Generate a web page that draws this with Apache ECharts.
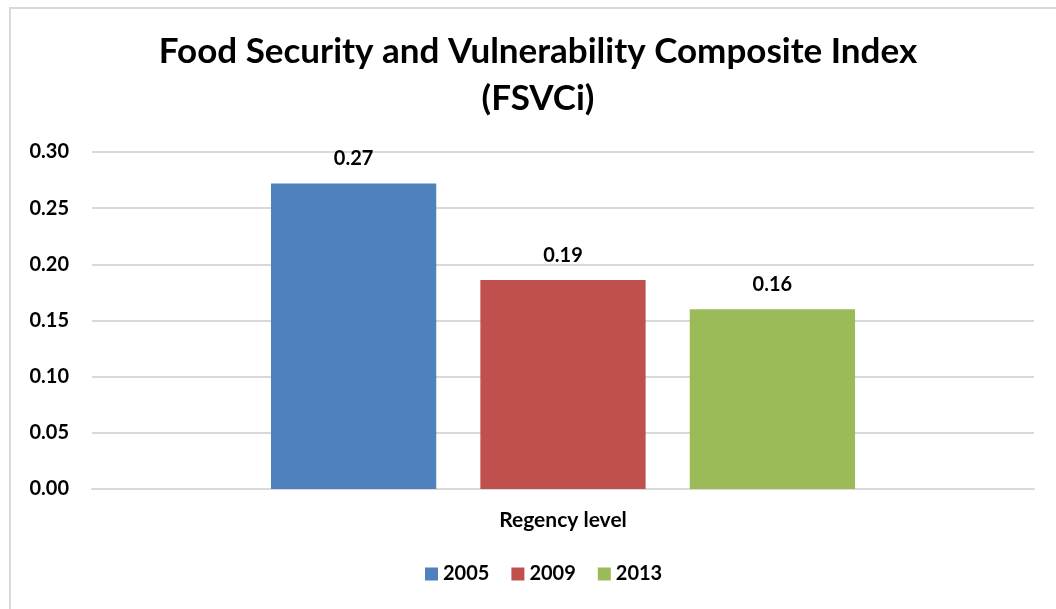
<!DOCTYPE html>
<html>
<head>
<meta charset="utf-8">
<script src="https://cdn.jsdelivr.net/npm/echarts@6/dist/echarts.min.js"></script>
<style>
  html, body { margin: 0; padding: 0; background: #fff; }
  #frame { position: absolute; left: 9px; top: 7px; width: 1060px; height: 620px; border: 2px solid #d9d9d9; box-sizing: border-box; }
  #chart { position: absolute; left: 0; top: 0; width: 1056px; height: 609px; }
</style>
</head>
<body>
<div id="frame"></div>
<div id="chart"></div>
<script>
var categories = ['Regency level'];
var years = ['2005', '2009', '2013'];
var values2005 = [0.272];
var values2009 = [0.186];
var values2013 = [0.160];
var colors = ['#4F81BD', '#C0504D', '#9BBB59'];

var font = 'Lato, "Open Sans", sans-serif';
var myChart = echarts.init(document.getElementById('chart'));

function makeSeries(name, data, color) {
  return {
    name: name,
    type: 'bar',
    data: data,
    barGap: '26.7%',
    barCategoryGap: '38%',
    itemStyle: { color: color },
    label: {
      show: true,
      position: 'top',
      distance: 15,
      color: '#000',
      fontWeight: 'bold',
      fontSize: 20,
      fontFamily: font,
      formatter: function (p) { return p.value.toFixed(2); }
    }
  };
}

var option = {
  animation: false,
  title: {
    text: 'Food Security and Vulnerability Composite Index\n(FSVCi)',
    left: 533,
    top: 23,
    textAlign: 'center',
    textStyle: { fontSize: 35, fontWeight: 'bold', color: '#000', fontFamily: font, lineHeight: 47 }
  },
  legend: {
    bottom: 20,
    left: 420,
    itemWidth: 13,
    itemHeight: 13,
    itemGap: 22,
    icon: 'rect',
    textStyle: { fontSize: 20, fontWeight: 'bold', color: '#000', fontFamily: font }
  },
  grid: { left: 92, right: 22, top: 152, bottom: 120 },
  xAxis: {
    type: 'category',
    data: categories,
    axisTick: { show: false },
    axisLine: { lineStyle: { color: '#d9d9d9', width: 2 } },
    axisLabel: { color: '#000', fontWeight: 'bold', fontSize: 21, fontFamily: font, margin: 21 }
  },
  yAxis: {
    type: 'value',
    min: 0,
    max: 0.30,
    interval: 0.05,
    axisLine: { show: false },
    axisTick: { show: false },
    splitLine: { lineStyle: { color: '#d9d9d9', width: 2 } },
    axisLabel: {
      color: '#000', fontWeight: 'bold', fontSize: 20, fontFamily: font, margin: 23,
      formatter: function (v) { return v.toFixed(2); }
    }
  },
  series: [
    makeSeries(years[0], values2005, colors[0]),
    makeSeries(years[1], values2009, colors[1]),
    makeSeries(years[2], values2013, colors[2])
  ]
};
myChart.setOption(option);
</script>
</body>
</html>
